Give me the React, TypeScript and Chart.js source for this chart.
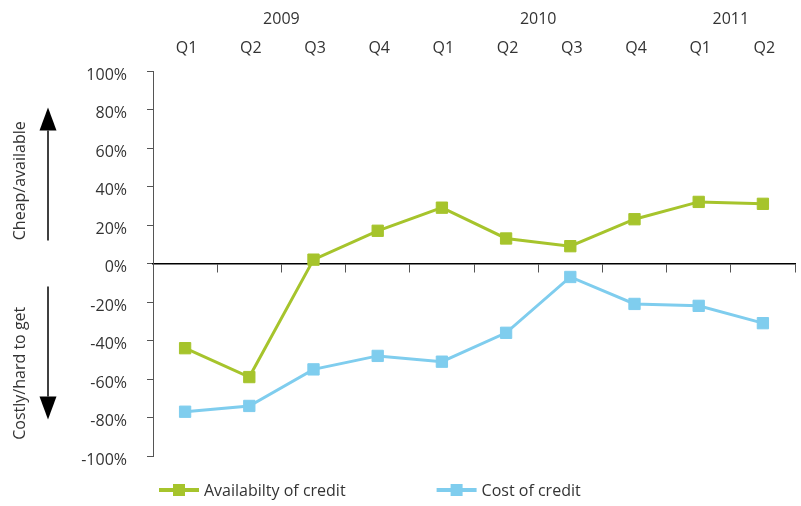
import React, { useEffect, useRef } from 'react';
import { Chart, registerables } from 'chart.js';

Chart.register(...registerables);

// ---------- data ----------
const quarters = ['Q1', 'Q2', 'Q3', 'Q4', 'Q1', 'Q2', 'Q3', 'Q4', 'Q1', 'Q2'];
const years = ['2009', '2010', '2011'];
const quartersPerYear = [4, 4, 2];
const availabilityOfCredit = [-44, -59, 2, 17, 29, 13, 9, 23, 32, 31];
const costOfCredit = [-77, -74, -55, -48, -51, -36, -7, -21, -22, -31];
const seriesNames = ['Availabilty of credit', 'Cost of credit'];
const seriesColors = ['#A6C42C', '#7FCDEE'];
const yMin = -100;
const yMax = 100;
const yStep = 20;
const upLabel = 'Cheap/available';
const downLabel = 'Costly/hard to get';

const FONT = '"Open Sans", "Noto Sans", sans-serif';
const TEXT = '#333333';

// centre index of each year's quarters
const yearMids: number[] = (() => {
  const out: number[] = [];
  let s = 0;
  quartersPerYear.forEach((n) => {
    out.push(s + (n - 1) / 2);
    s += n;
  });
  return out;
})();

const sideNotes = {
  id: 'sideNotes',
  afterDraw(chart: any) {
    const ctx = chart.ctx;
    const y = chart.scales.y;
    ctx.save();
    ctx.fillStyle = TEXT;
    ctx.font = `16px ${FONT}`;
    ctx.textAlign = 'center';
    ctx.textBaseline = 'middle';
    const drawRot = (text: string, cx: number, cy: number) => {
      ctx.save();
      ctx.translate(cx, cy);
      ctx.rotate(-Math.PI / 2);
      ctx.fillText(text, 0, 0);
      ctx.restore();
    };
    drawRot(upLabel, 20, y.getPixelForValue(43));
    drawRot(downLabel, 20, y.getPixelForValue(-57));

    const arrow = (x: number, fromV: number, toV: number) => {
      const y0 = y.getPixelForValue(fromV);
      const y1 = y.getPixelForValue(toV);
      const dir = y1 < y0 ? -1 : 1;
      const headH = 23;
      const headW = 8.5;
      ctx.strokeStyle = '#000';
      ctx.fillStyle = '#000';
      ctx.lineWidth = 1.5;
      ctx.beginPath();
      ctx.moveTo(x, y0);
      ctx.lineTo(x, y1 - dir * headH);
      ctx.stroke();
      ctx.beginPath();
      ctx.moveTo(x, y1);
      ctx.lineTo(x - headW, y1 - dir * headH);
      ctx.lineTo(x + headW, y1 - dir * headH);
      ctx.closePath();
      ctx.fill();
    };
    arrow(48, 12, 81);
    arrow(48, -12, -81);
    ctx.restore();
  },
};

const customLegend = {
  id: 'customLegend',
  afterDraw(chart: any) {
    const ctx = chart.ctx;
    const area = chart.chartArea;
    ctx.save();
    ctx.font = `16px ${FONT}`;
    ctx.textBaseline = 'middle';
    ctx.textAlign = 'left';
    let x = 159;
    const cy = area.bottom + 34;
    chart.data.datasets.forEach((ds: any) => {
      ctx.strokeStyle = ds.borderColor;
      ctx.fillStyle = ds.borderColor;
      ctx.lineWidth = 4;
      ctx.beginPath();
      ctx.moveTo(x, cy);
      ctx.lineTo(x + 40, cy);
      ctx.stroke();
      ctx.fillRect(x + 14, cy - 6, 12, 12);
      ctx.fillStyle = TEXT;
      ctx.fillText(ds.label, x + 45, cy + 1);
      x += 45 + ctx.measureText(ds.label).width + 91;
    });
    ctx.restore();
  },
};

export default function App() {
  const ref = useRef<HTMLCanvasElement | null>(null);

  useEffect(() => {
    if (!ref.current) return;
    const font = { family: FONT, size: 16 };
    const chart = new Chart(ref.current, {
      type: 'line',
      data: {
        labels: quarters,
        datasets: [availabilityOfCredit, costOfCredit].map((d, i) => ({
          label: seriesNames[i],
          data: d,
          borderColor: seriesColors[i],
          backgroundColor: seriesColors[i],
          pointBackgroundColor: seriesColors[i],
          pointBorderColor: seriesColors[i],
          borderWidth: 3,
          pointStyle: 'rect',
          pointRadius: 8,
          pointBorderWidth: 1,
          tension: 0,
          xAxisID: 'x',
          yAxisID: 'y',
        })),
      },
      options: {
        animation: false,
        responsive: true,
        maintainAspectRatio: false,
        layout: { autoPadding: false, padding: { left: 0, right: 6, top: 0, bottom: 50 } },
        plugins: {
          legend: { display: false },
          tooltip: { enabled: false },
        },
        scales: {
          x: {
            type: 'category',
            position: 'top',
            offset: true,
            weight: 0,
            grid: { display: false },
            border: { display: false },
            ticks: { font, color: TEXT, padding: 5, labelOffset: 1.5, maxRotation: 0, autoSkip: false },
            afterFit: (s: any) => {
              s.height = 31;
            },
          },
          xYear: {
            type: 'linear',
            axis: 'x',
            position: 'top',
            min: -0.5,
            max: quarters.length - 0.5,
            weight: 1,
            grid: { display: false },
            border: { display: false },
            afterBuildTicks: (s: any) => {
              s.ticks = yearMids.map((v) => ({ value: v }));
            },
            ticks: {
              font,
              color: TEXT,
              padding: 3,
              maxRotation: 0,
              autoSkip: false,
              callback: (_v: any, i: number) => years[i],
            },
            afterFit: (s: any) => {
              s.height = 40;
            },
          },
          xZero: {
            type: 'category',
            axis: 'x',
            position: { y: 0 },
            offset: true,
            grid: {
              display: true,
              drawOnChartArea: false,
              drawTicks: true,
              tickLength: 8,
              offset: true,
              color: '#555555',
              lineWidth: 1,
            },
            border: { display: true, color: '#000000', width: 1.5 },
            ticks: { display: false },
          },
          y: {
            type: 'linear',
            position: 'left',
            min: yMin,
            max: yMax,
            grid: {
              drawOnChartArea: false,
              drawTicks: true,
              tickLength: 6,
              color: '#555555',
            },
            border: { display: true, color: '#555555', width: 1 },
            ticks: {
              stepSize: yStep,
              font,
              color: TEXT,
              padding: 20,
              labelOffset: 4,
              callback: (v: any) => `${v}%`,
            },
            afterFit: (s: any) => {
              s.width = 153;
            },
          },
        },
      } as any,
      plugins: [sideNotes, customLegend],
    });
    return () => chart.destroy();
  }, []);

  return (
    <div style={{ position: 'absolute', left: 0, top: 0, width: 801, height: 506 }}>
      <canvas ref={ref} />
    </div>
  );
}
